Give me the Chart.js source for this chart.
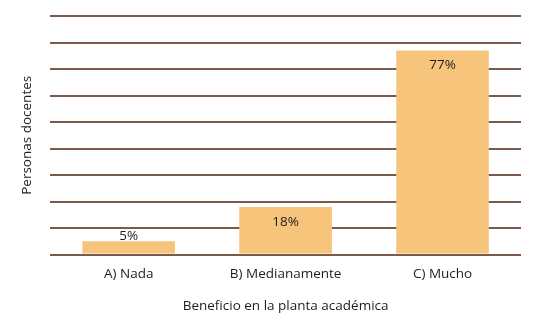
<!DOCTYPE html>
<html>
<head>
<meta charset="utf-8">
<script src="https://cdn.jsdelivr.net/npm/chart.js@4"></script>
<style>
  html, body { margin: 0; padding: 0; background: #fff; }
  #wrap { width: 536px; height: 330px; }
</style>
</head>
<body>
<div id="wrap"><canvas id="chart" width="536" height="330"></canvas></div>
<script>
const CATEGORIAS = ['A) Nada', 'B) Medianamente', 'C) Mucho']
const PORCENTAJES = [5, 18, 77]
const Y_MAX = 90
const Y_STEP = 10

const FUENTE = '"Open Sans", sans-serif'
const TAM = 13.5
const COLOR_BARRA = '#f7c47c'
const COLOR_LINEA = '#7a5a4b'
const COLOR_TEXTO = '#1e1e1e'

// etiquetas de porcentaje sobre/dentro de cada barra
const etiquetas = {
  id: 'etiquetas',
  afterDatasetsDraw(chart) {
    const ctx = chart.ctx
    const meta = chart.getDatasetMeta(0)
    ctx.save()
    ctx.font = TAM + 'px ' + FUENTE
    ctx.fillStyle = COLOR_TEXTO
    ctx.textAlign = 'center'
    meta.data.forEach((bar, i) => {
      const alto = bar.base - bar.y
      let y
      if (alto < 25) {
        ctx.textBaseline = 'alphabetic'
        y = bar.y - 1
      } else {
        ctx.textBaseline = 'middle'
        y = bar.y + 15
      }
      ctx.fillText(PORCENTAJES[i] + '%', bar.x, y)
    })
    ctx.restore()
  }
}

new Chart(document.getElementById('chart'), {
  type: 'bar',
  data: {
    labels: CATEGORIAS,
    datasets: [{
      data: PORCENTAJES,
      backgroundColor: COLOR_BARRA,
      borderWidth: 0,
      barPercentage: 0.59,
      categoryPercentage: 1
    }]
  },
  options: {
    responsive: false,
    animation: false,
    layout: { padding: { left: 3, right: 15, top: 16, bottom: 16 } },
    plugins: {
      legend: { display: false },
      tooltip: { enabled: false }
    },
    scales: {
      x: {
        grid: { display: false, drawTicks: false },
        border: { display: false },
        ticks: { color: COLOR_TEXTO, font: { family: FUENTE, size: TAM }, padding: 11 },
        title: {
          display: true,
          text: 'Beneficio en la planta académica',
          color: COLOR_TEXTO,
          font: { family: FUENTE, size: TAM },
          padding: { top: 5, bottom: 0 }
        }
      },
      y: {
        min: 0,
        max: Y_MAX,
        ticks: { display: false, stepSize: Y_STEP },
        grid: { color: COLOR_LINEA, lineWidth: 2, drawTicks: false },
        border: { display: false },
        title: {
          display: true,
          text: 'Personas docentes',
          color: COLOR_TEXTO,
          font: { family: FUENTE, size: TAM },
          padding: { top: 16, bottom: 15 }
        }
      }
    }
  },
  plugins: [etiquetas]
})
</script>
</body>
</html>
